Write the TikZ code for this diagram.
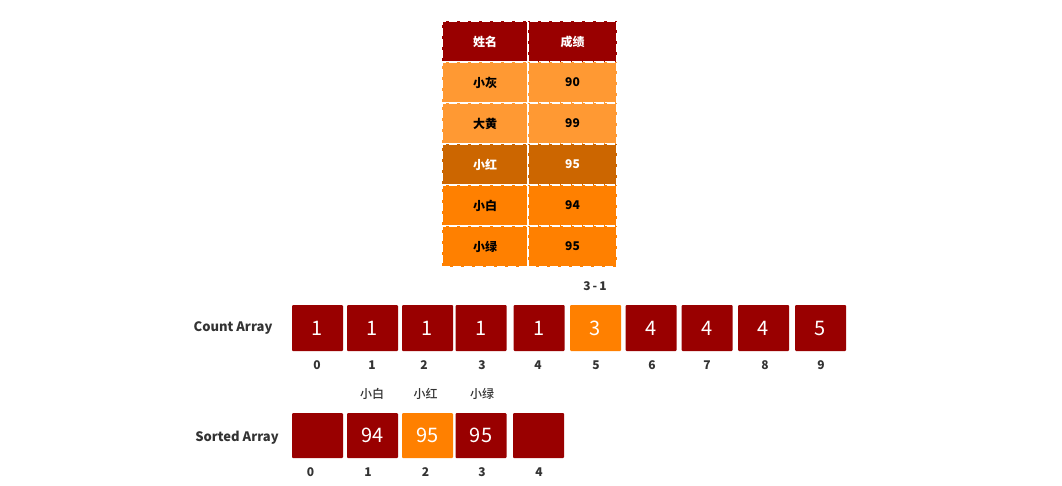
\documentclass[tikz,border=0pt]{standalone}
\usepackage{fontspec}
\setmainfont{Noto Sans CJK SC}
\newfontfamily\medfont{Noto Sans CJK SC Medium}
\definecolor{dred}{HTML}{990000}
\definecolor{lorange}{HTML}{FF9933}
\definecolor{morange}{HTML}{FF8000}
\definecolor{brorange}{HTML}{CC6600}
\definecolor{txtgray}{HTML}{333333}
\tikzset{
  tcell/.style={draw=white, line width=1.4pt, dash pattern=on 8pt off 3pt, minimum height=41pt, inner sep=0pt, font=\bfseries\fontsize{12}{14}\selectfont, text=black},
  tname/.style={tcell, minimum width=86pt},
  tscore/.style={tcell, minimum width=89pt},
  acell/.style={rounded corners=1pt, minimum width=51pt, minimum height=46pt, inner sep=0pt, text=white, font=\fontsize{20}{22}\selectfont},
  idx/.style={text=txtgray, font=\bfseries\fontsize{12}{14}\selectfont, inner sep=0pt},
  nlabel/.style={text=txtgray, font=\medfont\fontsize{12}{14}\selectfont, inner sep=0pt},
  rowlabel/.style={text=txtgray, font=\bfseries\fontsize{13}{15}\selectfont, inner sep=0pt}
}
\begin{document}
\begin{tikzpicture}[x=1pt, y=-1pt]
\fill[white] (0,0) rectangle (1062,485);
\useasboundingbox (0,0) rectangle (1062,485);
% table
\node[tname, fill=dred, text=white] (h1) at (485,41.5) {姓名};
\node[tscore, fill=dred, text=white] (h2) at (572.5,41.5) {成绩};
\node[tname, fill=lorange] (r1a) at (485,82.5) {小灰};
\node[tscore, fill=lorange] (r1b) at (572.5,82.5) {90};
\node[tname, fill=lorange] (r2a) at (485,123.5) {大黄};
\node[tscore, fill=lorange] (r2b) at (572.5,123.5) {99};
\node[tname, fill=brorange, text=white] (r3a) at (485,164.5) {小红};
\node[tscore, fill=brorange, text=white] (r3b) at (572.5,164.5) {95};
\node[tname, fill=morange] (r4a) at (485,205.5) {小白};
\node[tscore, fill=morange] (r4b) at (572.5,205.5) {94};
\node[tname, fill=morange] (r5a) at (485,246.5) {小绿};
\node[tscore, fill=morange] (r5b) at (572.5,246.5) {95};
% count array
\node[rowlabel] (clabel) at (233,328) {Count Array};
\node[idx] (minus) at (595,286) {3\,-\,1};
\foreach \i/\x/\v/\c in {0/317.5/1/dred,1/372.5/1/dred,2/427.5/1/dred,3/481/1/dred,4/539/1/dred,5/595.5/3/morange,6/651/4/dred,7/707/4/dred,8/763.5/4/dred,9/820.5/5/dred}{
  \node[acell, fill=\c] (c\i) at (\x,328) {\v};
}
\foreach \i/\x in {0/317,1/372,2/424,3/482,4/538,5/596,6/652,7/707,8/765,9/821}{
  \node[idx] (ci\i) at (\x,365) {\i};
}
% sorted array
\node[rowlabel] (slabel) at (237,438) {Sorted Array};
\foreach \i/\x/\v/\c in {0/317.5//dred,1/372.5/94/dred,2/427.5/95/morange,3/481/95/dred,4/538.5//dred}{
  \node[acell, fill=\c, minimum height=45pt] (s\i) at (\x,435.5) {\v};
}
\node[nlabel] (n1) at (372,394) {小白};
\node[nlabel] (n2) at (425.5,394) {小红};
\node[nlabel] (n3) at (482,394) {小绿};
\foreach \i/\x in {0/310.5,1/368,2/425.5,3/482,4/539}{
  \node[idx] (si\i) at (\x,472) {\i};
}
\end{tikzpicture}
\end{document}
